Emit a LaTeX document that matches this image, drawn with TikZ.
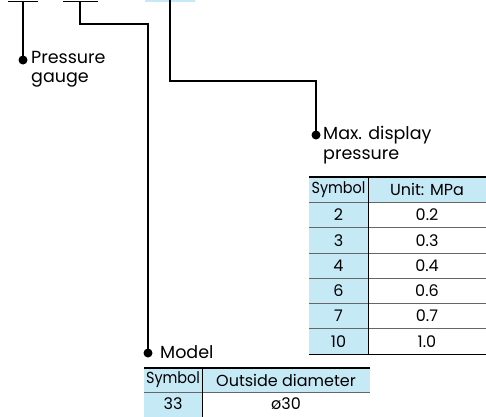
\documentclass[tikz,border=0pt]{standalone}
\usepackage{fontspec}
\setmainfont{Poppins}
\definecolor{symblue}{RGB}{198,233,246}
\newcommand{\narrowsym}{\scalebox{0.9}[1]{Symbol}}
\begin{document}
\begin{tikzpicture}[x=1pt,y=-1pt,
  leader/.style={line width=1.5pt},
  dot/.style={circle,fill=black,inner sep=0pt,minimum size=9pt},
  caption/.style={anchor=west,align=left,inner sep=0pt,font=\fontsize{17.5}{19.5}\selectfont},
  cell/.style={inner sep=0pt,font=\fontsize{16}{18}\selectfont},
  rowline/.style={color=black!60,line width=0.8pt}]
\useasboundingbox (0,0) rectangle (486,416);
% code bars at the top
\fill[symblue] (145,0) rectangle (195,2);
\draw[leader] (8,1.5)--(38,1.5);
\draw[leader] (63,1.5)--(98,1.5);
\coordinate (B1) at (23,1.5);
\coordinate (B2) at (80,1.5);
\coordinate (B3) at (170,0);
% dots and leaders
\node[dot] (D1) at (23,60) {};
\node[dot] (D2) at (316,135) {};
\node[dot] (D3) at (148,353) {};
\draw[leader] (B1)--(D1.center);
\draw[leader] (B2)|-(148,24)--(D3.center);
\draw[leader] (B3)|-(316,81)--(D2.center);
\node[caption] (gauge) at (31,69.5) {Pressure\\gauge};
\node[caption] (maxp) at (323,145) {Max. display\\pressure};
\node[caption] (model) at (160,352) {Model};
% table: max. display pressure
\fill[symblue] (309,177) rectangle (486,202.3);
\fill[symblue] (309,177) rectangle (368,354.1);
\foreach \i in {1,...,6}{
\draw[rowline] (309,{177+25.3*\i})--(486,{177+25.3*\i});
}
\draw[line width=0.8pt] (309,354.1)--(486,354.1);
\draw[line width=1.5pt] (309,177)--(486,177);
\draw[line width=1pt] (368,177)--(368,354.1);
\node[cell] (psym) at (338.5,189.6) {\narrowsym};
\node[cell] (punit) at (427,189.6) {Unit: MPa};
\foreach \s/\v [count=\i] in {2/0.2,3/0.3,4/0.4,6/0.6,7/0.7,10/1.0}{
\node[cell] (psym\i) at (338.5,{189.6+25.3*\i}) {\s};
\node[cell] (pval\i) at (427,{189.6+25.3*\i}) {\v};
}
% table: model
\fill[symblue] (144,368) rectangle (370,392);
\fill[symblue] (144,368) rectangle (202,418);
\draw[rowline] (144,392)--(370,392);
\draw[line width=1.5pt] (144,368)--(370,368);
\draw[line width=1pt] (202,368)--(202,418);
\node[cell] (msym) at (173,380) {\narrowsym};
\node[cell] (mdia) at (286,380) {Outside diameter};
\node[cell] (msym1) at (173,404) {33};
\node[cell] (mdia1) at (286,404) {ø30};
\end{tikzpicture}
\end{document}
